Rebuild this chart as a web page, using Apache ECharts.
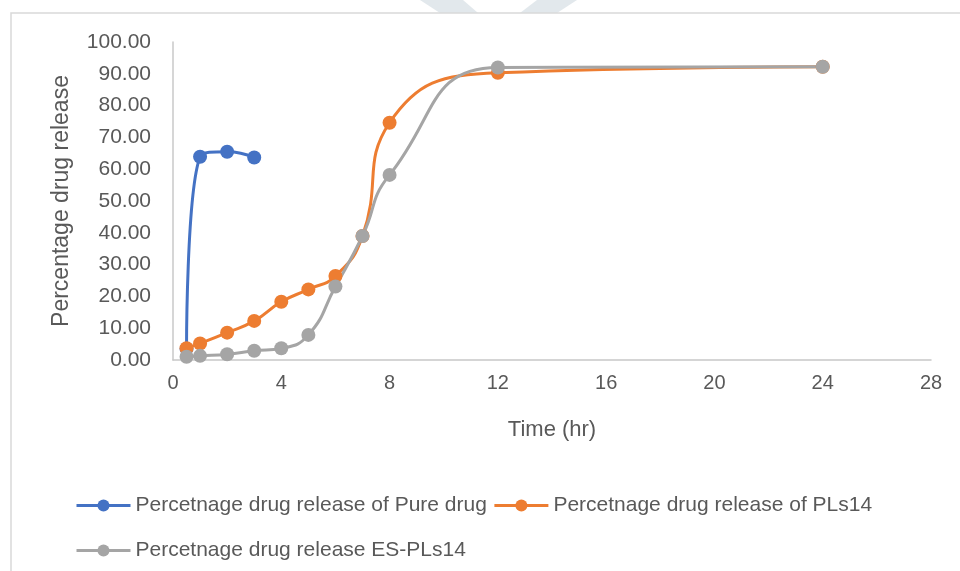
<!DOCTYPE html>
<html>
<head>
<meta charset="utf-8">
<script src="https://cdn.jsdelivr.net/npm/echarts@6/dist/echarts.min.js"></script>
<style>
html,body{margin:0;padding:0;background:#fff;}
#c{width:960px;height:571px;}
</style>
</head>
<body>
<div id="c"></div>
<script>
var seriesNames = [
  'Percetnage drug release of Pure drug',
  'Percetnage drug release of PLs14',
  'Percetnage drug release ES-PLs14'
];
var pureTime = [0.5, 1, 2, 3];
var pureValues = [3.5, 63.9, 65.5, 63.7];
var plsTime = [0.5, 1, 2, 3, 4, 5, 6, 7, 8, 12, 24];
var plsValues = [3.7, 5.2, 8.6, 12.3, 18.3, 22.2, 26.4, 39.0, 74.6, 90.3, 92.2];
var esTime = [0.5, 1, 2, 3, 4, 5, 6, 7, 8, 12, 24];
var esValues = [1.0, 1.3, 1.8, 2.9, 3.7, 7.9, 23.1, 39.0, 58.2, 92.0, 92.2];
var xTicks = [0, 4, 8, 12, 16, 20, 24, 28];
var yTicks = [0, 10, 20, 30, 40, 50, 60, 70, 80, 90, 100];

function pairs(xs, ys) { return xs.map(function (x, i) { return [x, ys[i]]; }); }

var font = "'Liberation Sans', Arial, sans-serif";
var txt = '#595959';
var axisCol = '#C8C8C8';
var colors = ['#4472C4', '#ED7D31', '#A5A5A5'];

function mkSeries(name, data, color) {
  return {
    name: name, type: 'line', data: data, smooth: 0.5,
    symbol: 'circle', symbolSize: 14,
    lineStyle: { width: 3, color: color },
    itemStyle: { color: color },
    emphasis: { disabled: true }
  };
}

var legendCommon = {
  itemWidth: 54, itemHeight: 15, itemGap: 6,
  textStyle: { fontFamily: font, fontSize: 21, color: txt },
  lineStyle: { width: 3 },
  selectedMode: false
};

var chart = echarts.init(document.getElementById('c'), null, { renderer: 'canvas' });
chart.setOption({
  animation: false,
  backgroundColor: '#fff',
  color: colors,
  textStyle: { fontFamily: font },
  grid: { left: 173, right: 29, top: 42, bottom: 211, containLabel: false },
  graphic: [
    { type: 'polygon', shape: { points: [[420,0],[463,0],[478,13],[440,13]] }, style: { fill: '#E2E8EC' }, silent: true },
    { type: 'polygon', shape: { points: [[537,0],[577,0],[557,13],[520,13]] }, style: { fill: '#E2E8EC' }, silent: true },
    { type: 'polyline', shape: { points: [[11,571],[11,13],[960,13]] }, style: { stroke: '#D9D9D9', lineWidth: 1.5, fill: null }, silent: true }
  ],
  legend: [
    Object.assign({ data: [seriesNames[0], seriesNames[1]], left: 70, top: 490 }, legendCommon),
    Object.assign({ data: [seriesNames[2]], left: 70, top: 535 }, legendCommon)
  ],
  xAxis: {
    type: 'value', min: xTicks[0], max: xTicks[xTicks.length - 1], interval: 4,
    name: 'Time (hr)', nameLocation: 'middle', nameGap: 59,
    nameTextStyle: { fontFamily: font, fontSize: 22, color: txt },
    axisLine: { show: true, lineStyle: { color: axisCol, width: 1.5 } },
    axisTick: { show: false },
    splitLine: { show: false },
    axisLabel: { fontFamily: font, fontSize: 20, color: txt, margin: 13 }
  },
  yAxis: {
    type: 'value', min: yTicks[0], max: yTicks[yTicks.length - 1], interval: 10,
    name: 'Percentage drug release', nameLocation: 'middle', nameGap: 100,
    nameTextStyle: { fontFamily: font, fontSize: 23, color: txt },
    axisLine: { show: true, lineStyle: { color: axisCol, width: 1.5 } },
    axisTick: { show: false },
    splitLine: { show: false },
    axisLabel: { fontFamily: font, fontSize: 21, color: txt, margin: 22,
      formatter: function (v) { return v.toFixed(2); } }
  },
  series: [
    mkSeries(seriesNames[0], pairs(pureTime, pureValues), colors[0]),
    mkSeries(seriesNames[1], pairs(plsTime, plsValues), colors[1]),
    mkSeries(seriesNames[2], pairs(esTime, esValues), colors[2])
  ]
});
</script>
</body>
</html>
